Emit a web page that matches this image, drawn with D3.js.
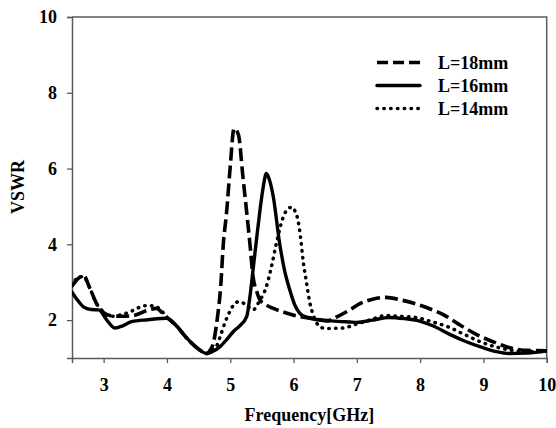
<!DOCTYPE html>
<html>
<head>
<meta charset="utf-8">
<script src="https://cdn.jsdelivr.net/npm/d3@7"></script>
<style>
  body { margin: 0; background: #fff; }
  svg text { font-family: "Liberation Serif", "Times New Roman", serif; font-weight: bold; fill: #000; }
</style>
</head>
<body>
<script>
// frequency (GHz) and VSWR for each antenna length
const freq18 = [2.5, 2.6, 2.68, 2.78, 2.89, 3.0, 3.1, 3.3, 3.47, 3.68, 3.84, 3.92, 4.0, 4.15, 4.3, 4.45, 4.55, 4.63, 4.68, 4.73, 4.8, 4.85, 4.89, 4.94, 5.0, 5.06, 5.13, 5.2, 5.31, 5.36, 5.42, 5.47, 5.57, 5.68, 5.9, 6.1, 6.3, 6.52, 6.7, 6.89, 7.04, 7.25, 7.46, 7.7, 7.93, 8.15, 8.35, 8.6, 8.88, 9.15, 9.4, 9.7, 10.0];
const vswr18 = [2.9, 3.1, 3.18, 2.85, 2.43, 2.2, 2.12, 2.1, 2.12, 2.25, 2.31, 2.2, 2.07, 1.85, 1.55, 1.3, 1.18, 1.12, 1.2, 1.37, 2.1, 2.9, 4.0, 4.8, 6.05, 7.06, 6.89, 5.79, 4.03, 3.15, 2.75, 2.53, 2.4, 2.31, 2.18, 2.09, 2.05, 1.98, 2.1, 2.27, 2.43, 2.55, 2.6, 2.53, 2.43, 2.3, 2.16, 1.9, 1.63, 1.43, 1.28, 1.2, 1.19];

const freq16 = [2.5, 2.6, 2.68, 2.8, 2.92, 3.05, 3.18, 3.3, 3.44, 3.7, 4.0, 4.15, 4.3, 4.45, 4.55, 4.63, 4.72, 4.84, 4.95, 5.05, 5.15, 5.26, 5.31, 5.36, 5.42, 5.47, 5.52, 5.57, 5.62, 5.68, 5.78, 5.86, 5.94, 6.02, 6.1, 6.2, 6.31, 6.6, 6.89, 7.0, 7.25, 7.51, 7.75, 7.98, 8.2, 8.46, 8.7, 8.98, 9.2, 9.4, 9.7, 10.0];
const vswr16 = [2.74, 2.5, 2.35, 2.28, 2.27, 2.0, 1.79, 1.85, 1.96, 2.01, 2.05, 1.85, 1.55, 1.3, 1.17, 1.12, 1.17, 1.3, 1.5, 1.7, 1.85, 2.09, 2.6, 3.32, 4.2, 4.9, 5.5, 5.87, 5.7, 5.26, 4.03, 3.3, 2.8, 2.4, 2.18, 2.08, 2.03, 1.98, 1.95, 1.94, 2.0, 2.07, 2.04, 1.98, 1.85, 1.63, 1.45, 1.28, 1.17, 1.12, 1.13, 1.19];

const freq14 = [2.5, 2.6, 2.68, 2.78, 2.89, 3.0, 3.1, 3.3, 3.5, 3.63, 3.78, 3.89, 4.0, 4.15, 4.3, 4.45, 4.55, 4.63, 4.7, 4.78, 4.84, 4.92, 5.0, 5.08, 5.15, 5.25, 5.36, 5.46, 5.57, 5.65, 5.73, 5.84, 5.92, 5.98, 6.03, 6.07, 6.11, 6.15, 6.2, 6.26, 6.32, 6.4, 6.5, 6.77, 7.0, 7.2, 7.46, 7.7, 7.93, 8.2, 8.46, 8.7, 8.98, 9.25, 9.51, 9.75, 10.0];
const vswr14 = [2.9, 3.13, 3.15, 2.85, 2.43, 2.2, 2.1, 2.15, 2.28, 2.38, 2.38, 2.29, 2.07, 1.85, 1.55, 1.3, 1.18, 1.12, 1.18, 1.3, 1.56, 1.95, 2.25, 2.45, 2.49, 2.4, 2.27, 2.5, 2.88, 3.4, 4.03, 4.73, 4.95, 4.98, 4.85, 4.64, 4.2, 3.59, 3.04, 2.44, 2.1, 1.85, 1.78, 1.79, 1.9, 2.0, 2.12, 2.1, 2.07, 1.95, 1.81, 1.62, 1.41, 1.27, 1.19, 1.17, 1.19];

const seriesNames = ["L=18mm", "L=16mm", "L=14mm"];
const xTicks = [3, 4, 5, 6, 7, 8, 9, 10];
const yTicks = [2, 4, 6, 8, 10];

const w = 556, h = 428;
const padL = 72, padT = 17, padR = 546.7, padB = 358;

const x = d3.scaleLinear().domain([2.5, 10]).range([padL, padR]);
const y = d3.scaleLinear().domain([1, 10]).range([padB, padT]);

const svg = d3.select("body").append("svg")
  .attr("width", w)
  .attr("height", h);

svg.append("defs").append("clipPath").attr("id", "plot")
  .append("rect")
  .attr("x", padL).attr("y", padT)
  .attr("width", padR - padL).attr("height", padB - padT);

const frameColor = "#5a5a5a";

// top and right frame
svg.append("path")
  .attr("d", `M${padL},${padT}H${padR}V${padB}`)
  .attr("fill", "none")
  .attr("stroke", frameColor)
  .attr("stroke-width", 1.5);

const xAxis = svg.append("g")
  .attr("transform", `translate(0,${padB})`)
  .call(d3.axisBottom(x).tickValues(xTicks).tickSize(5).tickPadding(15).tickFormat(d3.format("d")));

const yAxis = svg.append("g")
  .attr("transform", `translate(${padL},0)`)
  .call(d3.axisLeft(y).tickValues(yTicks).tickSize(5).tickPadding(10).tickFormat(d3.format("d")));

[xAxis, yAxis].forEach(g => {
  g.select(".domain").attr("stroke", frameColor).attr("stroke-width", 1.5);
  g.selectAll(".tick line").attr("stroke", frameColor).attr("stroke-width", 1.3);
  g.selectAll(".tick text").attr("font-size", 18).attr("fill", "#000")
    .style("font-family", "Liberation Serif, serif").style("font-weight", "bold");
});

svg.append("text")
  .attr("x", (padL + padR) / 2)
  .attr("y", 421)
  .attr("text-anchor", "middle")
  .attr("font-size", 18)
  .text("Frequency[GHz]");

svg.append("text")
  .attr("transform", "translate(24,187) rotate(-90)")
  .attr("text-anchor", "middle")
  .attr("font-size", 18)
  .text("VSWR");

const line = d3.line()
  .x(d => x(d[0]))
  .y(d => y(d[1]))
  .curve(d3.curveMonotoneX);

const styles = [
  { dash: "13,5", cap: "butt", width: 3.6 },
  { dash: null, cap: "round", width: 3.4 },
  { dash: "0.5,6.3", cap: "round", width: 3.5 }
];

const series = [
  d3.zip(freq18, vswr18),
  d3.zip(freq16, vswr16),
  d3.zip(freq14, vswr14)
];

const plot = svg.append("g").attr("clip-path", "url(#plot)");

series.forEach((pts, i) => {
  plot.append("path")
    .datum(pts)
    .attr("d", line)
    .attr("fill", "none")
    .attr("stroke", "#000")
    .attr("stroke-width", styles[i].width)
    .attr("stroke-linecap", styles[i].cap)
    .attr("stroke-linejoin", "round")
    .attr("stroke-dasharray", styles[i].dash);
});

// legend
const legend = svg.append("g");
seriesNames.forEach((name, i) => {
  const ly = 62.5 + i * 23;
  legend.append("line")
    .attr("x1", 377).attr("x2", 420)
    .attr("y1", ly).attr("y2", ly)
    .attr("stroke", "#000")
    .attr("stroke-width", styles[i].width)
    .attr("stroke-linecap", styles[i].cap)
    .attr("stroke-dasharray", i === 0 ? "11,5" : styles[i].dash);
  legend.append("text")
    .attr("x", 438)
    .attr("y", ly + 6.5)
    .attr("font-size", 18)
    .text(name);
});
</script>
</body>
</html>
